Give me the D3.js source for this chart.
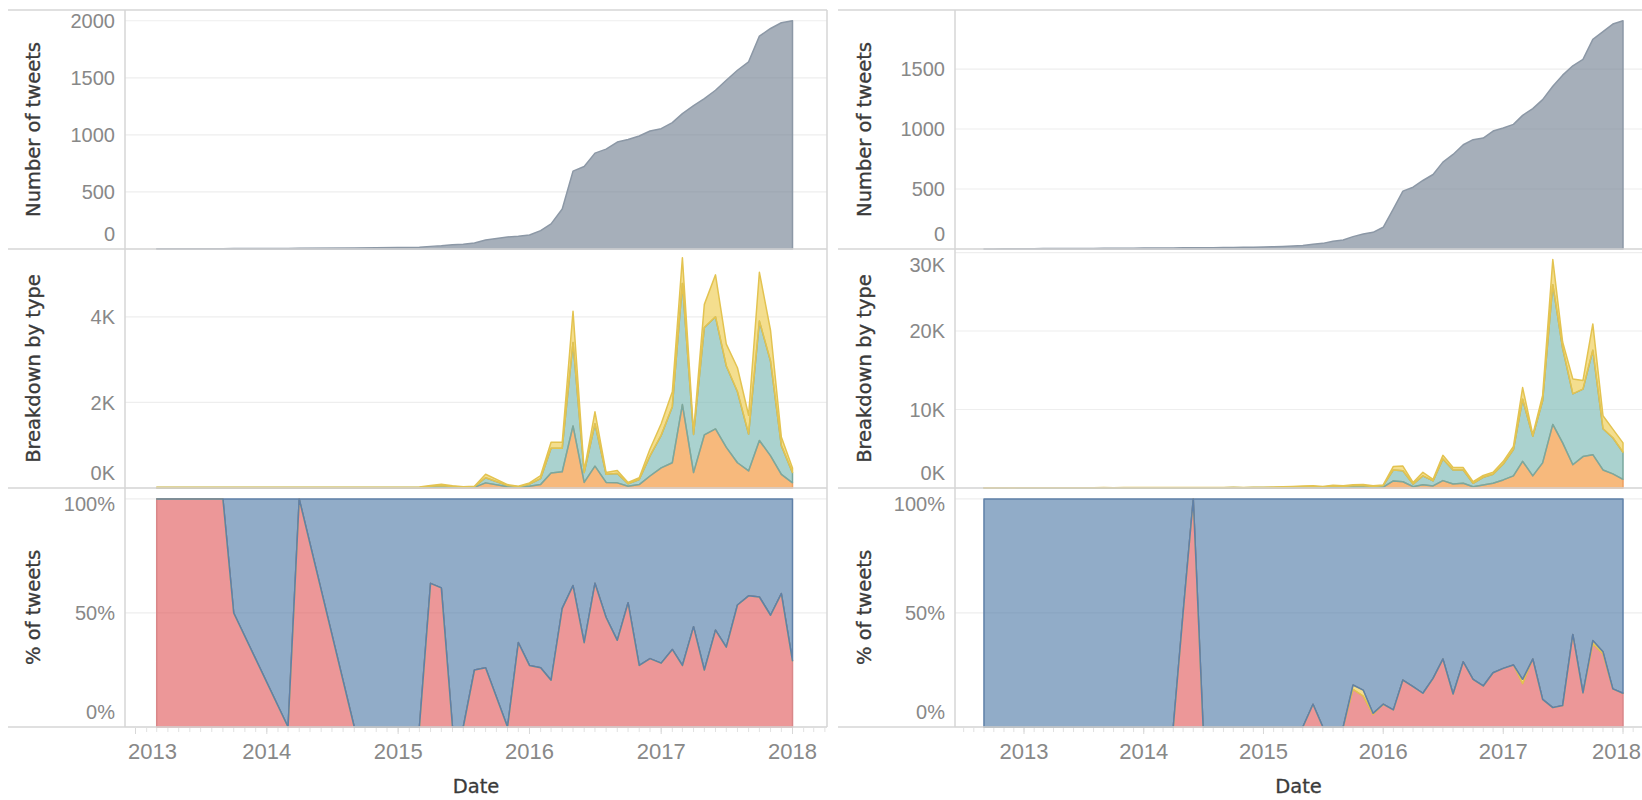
<!DOCTYPE html>
<html><head><meta charset="utf-8">
<script src="https://cdn.jsdelivr.net/npm/d3@7"></script>
<style>body{margin:0;background:#fff;} svg{display:block;}</style>
</head><body>
<svg id="chart" width="1642" height="800"></svg>
<script>
// ---------------- DATA ----------------
const leftDates = ["2013-03","2013-09","2013-10","2014-03","2014-04","2014-09",
 "2015-03","2015-04","2015-05","2015-06","2015-07","2015-08","2015-09","2015-11","2015-12",
 "2016-01","2016-02","2016-03","2016-04","2016-05","2016-06","2016-07","2016-08","2016-09","2016-10","2016-11","2016-12",
 "2017-01","2017-02","2017-03","2017-04","2017-05","2017-06","2017-07","2017-08","2017-09","2017-10","2017-11","2017-12",
 "2018-01"];
const leftCumulative = [2,3,4,5,6,8, 15,23,29,38,41,53,79,105,111,
 123,161,220,351,682,723,840,875,937,960,990,1034,
 1054,1107,1186,1256,1318,1391,1479,1566,1640,1865,1932,1982, 2000];
const leftOrange = [5,5,5,5,5,5, 8,20,25,15,10,15,120,30,20,
 40,80,350,380,1450,130,510,130,120,40,80,280,
 470,590,1950,360,1240,1380,950,590,400,1110,750,320, 120];
const leftTeal = [5,5,5,5,5,5, 5,20,30,20,10,15,120,30,10,
 50,140,580,550,1950,230,990,190,220,60,120,470,
 760,1310,2830,890,2510,2620,1900,1660,860,2790,2210,670, 240];
const leftYellow = [10,10,10,10,10,10, 10,20,30,15,10,10,80,20,10,
 30,70,140,140,730,40,280,40,70,30,40,160,
 270,350,600,50,540,980,510,560,440,1140,720,200, 110];
const leftRedPct = [100,100,50,0,100,0, 0,63,61,0,0,25,26,0,37,
 27,26,20.5,52,62,37,63,48,38,54.5,27,30,
 28,34,27,44,25,42.5,35,53.5,57.5,57,49,58.5, 29];
const leftYellowPct = leftRedPct.map(() => 0);

const rightDates = ["2012-09","2012-10","2012-11","2012-12",
 "2013-01","2013-02","2013-03","2013-04","2013-05","2013-06","2013-07","2013-08","2013-09","2013-10","2013-11","2013-12",
 "2014-01","2014-02","2014-03","2014-04","2014-05","2014-06","2014-07","2014-08","2014-09","2014-10","2014-11","2014-12",
 "2015-01","2015-02","2015-03","2015-04","2015-05","2015-06","2015-07","2015-08","2015-09","2015-10","2015-11","2015-12",
 "2016-01","2016-02","2016-03","2016-04","2016-05","2016-06","2016-07","2016-08","2016-09","2016-10","2016-11","2016-12",
 "2017-01","2017-02","2017-03","2017-04","2017-05","2017-06","2017-07","2017-08","2017-09","2017-10","2017-11","2017-12",
 "2018-01"];
const rightCumulative = [1,1,2,2,
 3,3,4,4,4,5,5,5,6,6,7,7,
 8,8,9,9,10,10,11,11,12,13,14,15,
 17,19,21,25,30,39,47,64,75,103,125,139,
 181,334,482,515,571,621,724,788,869,911,925,983,
 1009,1039,1114,1170,1245,1357,1449,1527,1580,1747,1811,1875,
 1903];
const rightOrange = [5,5,8,5,
 8,6,8,10,8,10,8,10,10,12,10,12,
 10,12,15,12,15,12,15,12,15,18,15,20,
 20,30,30,40,50,60,40,80,60,100,100,50,
 100,900,800,170,400,260,940,500,600,170,390,600,
 1030,1550,3400,1550,3200,8100,5750,2960,4000,4250,2300,1800,
 1100];
const rightTeal = [10,10,12,10,
 12,10,15,12,15,12,15,15,18,15,18,20,
 20,18,22,20,25,20,25,22,25,30,25,30,
 40,40,70,80,100,140,80,170,140,200,200,150,
 200,1400,1400,330,1150,640,2760,1800,1700,430,980,1160,
 2020,3350,7900,5050,7900,17800,12050,9040,8600,13300,5250,4600,
 3450];
const rightYellow = [15,15,18,15,
 18,15,20,18,20,18,22,20,22,20,25,22,
 25,22,28,25,30,25,30,28,30,35,30,40,
 40,50,50,80,100,100,80,100,100,100,150,100,
 90,450,600,200,450,200,460,300,300,200,230,240,
 350,400,1500,200,700,3200,800,1900,1100,3350,1650,1100,
 1200];
const rightRedPct = [0,0,0,0,
 0,0,0,0,0,0,0,0,0,0,0,0,
 0,0,0,0,50,100,0,0,0,0,0,0,
 0,0,0,0,0,10,0,0,0,16.5,13.5,5.5,
 10,7.5,20.6,17.7,14.8,21.3,29.8,14.5,28.6,20.9,18,23.8,
 25.7,27.2,19,29.8,12.1,8.5,9.4,40.6,15,36.5,32,16.7,
 14.8];
const rightYellowPct = [0,0,0,0,
 0,0,0,0,0,0,0,0,0,0,0,0,
 0,0,0,0,0,0,0,0,0,0,0,0,
 0,0,0,0,0,0,0,0,0,1.9,2.7,0.5,
 0,0,0,0,0,0,0,0,0,0,0,0,
 0,0,1.9,0,0,0,0,0,0,1.4,1.0,0,
 0];

const yearTicks = [2013,2014,2015,2016,2017,2018];
const leftCountTicks = [0,500,1000,1500,2000];
const rightCountTicks = [0,500,1000,1500];
const leftTypeTicks = [0,2000,4000];
const rightTypeTicks = [0,10000,20000,30000];
const pctTicks = [0,0.5,1];
const rowTitles = ["Number of tweets","Breakdown by type","% of tweets"];
const xTitle = "Date";

// ---------------- LAYOUT ----------------
const svg = d3.select("#chart");
const rowTop = [10,249,488], rowBot = [249,488,727];
const FRAME = "#d6d6d6", GRID = "#eeeeee", TICKC = "#888888";
const parse = d3.utcParse("%Y-%m");

const sides = [
 {dates:leftDates, cum:leftCumulative, orange:leftOrange, teal:leftTeal, yellow:leftYellow,
  red:leftRedPct, yel:leftYellowPct, axisX:125, right:827, frameLeft:8, xr:[135.5,792.5],
  titleX:33, labelX:115, p1Max:2094, p2Max:5584, p1Ticks:leftCountTicks, p2Ticks:leftTypeTicks, border:true},
 {dates:rightDates, cum:rightCumulative, orange:rightOrange, teal:rightTeal, yellow:rightYellow,
  red:rightRedPct, yel:rightYellowPct, axisX:955, right:1642, frameLeft:838, xr:[1024,1623],
  titleX:864, labelX:945, p1Max:1992, p2Max:30450, p1Ticks:rightCountTicks, p2Ticks:rightTypeTicks, border:false}
];

const C = {
  gray:"#6f7e90", orange:"#f28e2b", teal:"#76b7b2", yellow:"#edc948", red:"#e15759", blue:"#4e79a7"
};
const STROKE = {gray:"#8c98a6", orange:"#eea062", teal:"#7aa89f", yellow:"#e3c350", red:"#d98789", blue:"#5f80a8"};

sides.forEach(s => {
  const x = d3.scaleUtc().domain([new Date(Date.UTC(2013,0,1)), new Date(Date.UTC(2018,0,1))]).range(s.xr);
  const dts = s.dates.map(parse);
  const g = svg.append("g");

  const yScales = [
    d3.scaleLinear().domain([0,s.p1Max]).range([rowBot[0],rowTop[0]]),
    d3.scaleLinear().domain([0,s.p2Max]).range([rowBot[1],rowTop[1]]),
    d3.scaleLinear().domain([0,1.048]).range([rowBot[2],rowTop[2]])
  ];
  const ticks = [s.p1Ticks, s.p2Ticks, pctTicks];
  const fmts = [d3.format("d"), v => (v/1000)+"K", d3.format(".0%")];
  const padTop = [11,16,16];

  // gridlines
  ticks.forEach((tk,i) => {
    g.append("g").selectAll("line").data(tk).join("line")
      .attr("x1", s.axisX).attr("x2", s.right)
      .attr("y1", d => yScales[i](d)).attr("y2", d => yScales[i](d))
      .attr("stroke", GRID).attr("stroke-width", 1.2);
  });

  // Row 1: cumulative area
  const rows1 = dts.map((d,i) => ({date:d, v:s.cum[i]}));
  g.append("path").datum(rows1)
    .attr("d", d3.area().x(d=>x(d.date)).y0(yScales[0](0)).y1(d=>yScales[0](d.v)))
    .attr("fill", C.gray).attr("fill-opacity", 0.62)
    .attr("stroke", STROKE.gray).attr("stroke-width", 1.5).attr("stroke-linejoin","round");

  // Row 2: stacked breakdown
  const rows2 = dts.map((d,i) => ({date:d, orange:s.orange[i], teal:s.teal[i], yellow:s.yellow[i]}));
  const st2 = d3.stack().keys(["orange","teal","yellow"])(rows2);
  st2.forEach(layer => {
    g.append("path").datum(layer)
      .attr("d", d3.area().x(d=>x(d.data.date)).y0(d=>yScales[1](d[0])).y1(d=>yScales[1](d[1])))
      .attr("fill", C[layer.key]).attr("fill-opacity", 0.62)
      .attr("stroke", STROKE[layer.key]).attr("stroke-width", 1.5).attr("stroke-linejoin","round");
  });

  // Row 3: percent stacked
  const rows3 = dts.map((d,i) => ({date:d, red:s.red[i]/100, yellow:s.yel[i]/100, blue:1 - s.red[i]/100 - s.yel[i]/100}));
  const st3 = d3.stack().keys(["red","yellow","blue"])(rows3);
  st3.forEach(layer => {
    g.append("path").datum(layer)
      .attr("d", d3.area().x(d=>x(d.data.date)).y0(d=>yScales[2](d[0])).y1(d=>yScales[2](d[1])))
      .attr("fill", C[layer.key]).attr("fill-opacity", 0.62)
      .attr("stroke", STROKE[layer.key]).attr("stroke-width", 1.5).attr("stroke-linejoin","round");
  });

  // frame lines
  [10,249,488,727].forEach(yv => {
    g.append("line").attr("x1", s.frameLeft).attr("x2", s.right).attr("y1", yv).attr("y2", yv)
      .attr("stroke", FRAME).attr("stroke-width", 1.5);
  });
  g.append("line").attr("x1", s.axisX).attr("x2", s.axisX).attr("y1", 10).attr("y2", 727)
    .attr("stroke", FRAME).attr("stroke-width", 1.5);
  if (s.border) g.append("line").attr("x1", s.right).attr("x2", s.right).attr("y1", 10).attr("y2", 727)
    .attr("stroke", FRAME).attr("stroke-width", 1.5);

  // y tick labels
  ticks.forEach((tk,i) => {
    g.append("g").selectAll("text").data(tk).join("text")
      .attr("x", s.labelX)
      .attr("y", d => Math.max(rowTop[i]+padTop[i], Math.min(rowBot[i]-15, yScales[i](d))))
      .attr("dy","0.36em").attr("text-anchor","end")
      .attr("font-family","'Liberation Sans', Arial, sans-serif").attr("font-size", 20)
      .attr("fill", TICKC).text(fmts[i]);
  });

  // row titles
  rowTitles.forEach((t,i) => {
    const cy = (rowTop[i]+rowBot[i])/2;
    g.append("text").attr("transform", `translate(${s.titleX},${cy}) rotate(-90)`)
      .attr("text-anchor","middle").attr("dy","0.36em")
      .attr("font-family","'DejaVu Sans', Verdana, sans-serif").attr("font-size", 19.5)
      .attr("fill", "#3a3a3a").attr("stroke", "#3a3a3a").attr("stroke-width", 0.35).text(t);
  });

  // x axis minor ticks
  const minor = d3.utcMonth.range(x.invert(s.axisX), x.invert(s.right));
  g.append("g").selectAll("line").data(minor).join("line")
    .attr("x1", d=>x(d)).attr("x2", d=>x(d)).attr("y1", 728).attr("y2", 732)
    .attr("stroke", "#e2e2e2").attr("stroke-width", 1);
  const yearDates = yearTicks.map(yv => new Date(Date.UTC(yv,0,1)));
  g.append("g").selectAll("line").data(yearDates).join("line")
    .attr("x1", d=>x(d)).attr("x2", d=>x(d)).attr("y1", 728).attr("y2", 734)
    .attr("stroke", "#d8d8d8").attr("stroke-width", 1);

  // year labels (kept inside the pane / picture)
  g.append("g").selectAll("text").data(yearDates).join("text")
    .attr("y", 759).attr("text-anchor","middle")
    .attr("font-family","'Liberation Sans', Arial, sans-serif").attr("font-size", 22)
    .attr("fill", TICKC).text(d => d.getUTCFullYear())
    .attr("x", function(d){
      const half = this.getComputedTextLength()/2;
      return Math.min(Math.max(x(d), s.axisX + half + 3), 1642 - half - 1);
    });

  // x title
  g.append("text").attr("x", (s.axisX + s.right)/2).attr("y", 793)
    .attr("text-anchor","middle")
    .attr("font-family","'DejaVu Sans', Verdana, sans-serif").attr("font-size", 19.5)
    .attr("fill", "#3a3a3a").attr("stroke", "#3a3a3a").attr("stroke-width", 0.3).text(xTitle);
});
</script>
</body></html>
